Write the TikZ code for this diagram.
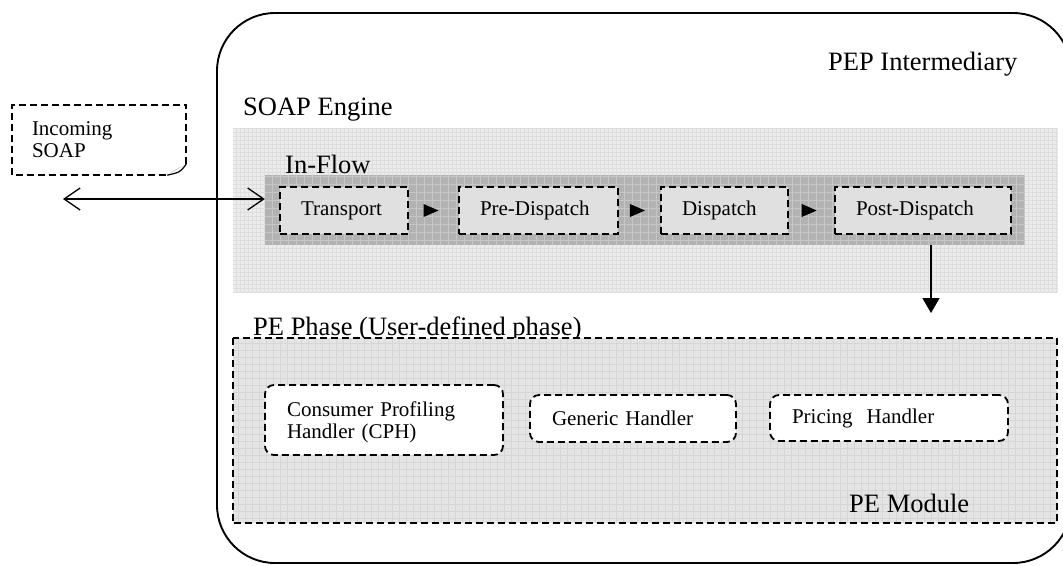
\documentclass[tikz,border=0pt]{standalone}
\usepackage{fontspec}
\setmainfont{Liberation Serif}
\usetikzlibrary{arrows.meta,calc}

\definecolor{enginebg}{HTML}{ECECEC}
\definecolor{enginegrid}{HTML}{DEDEDE}
\definecolor{flowbg}{HTML}{B2B2B2}
\definecolor{flowgrid}{HTML}{C6C6C6}
\definecolor{phasebg}{HTML}{E0E0E0}
\definecolor{modulebg}{HTML}{E4E4E4}
\definecolor{modulegrid}{HTML}{D6D6D6}

\begin{document}
\begin{tikzpicture}[x=1pt,y=-1pt,
  bigtext/.style={font=\fontsize{26.5}{30}\selectfont, inner sep=0pt},
  smalltext/.style={font=\fontsize{21}{22}\selectfont},
  dashedline/.style={draw=black, line width=1.8pt, dash pattern=on 7pt off 4pt},
  region/.style={rectangle, inner sep=0pt, draw=none},
  phasebox/.style={rectangle, dashedline, fill=phasebg, smalltext, minimum height=47pt,
    inner xsep=21pt, inner ysep=0pt, align=left},
  handlerbox/.style={rectangle, dashedline, fill=white, rounded corners=9pt, smalltext,
    inner xsep=22pt, inner ysep=0pt, align=left},
  flowtip/.style={fill=black},
]
\useasboundingbox (0,0) rectangle (1063,565);

% PEP intermediary container (its right side runs past the page edge)
\draw[line width=1.9pt, rounded corners=58pt] (217,13) rectangle (1071,563);
\node[bigtext, anchor=base west] (peplabel) at (828,70) {PEP Intermediary};

% SOAP engine area with its fine grid texture
\node[region, fill=enginebg, minimum width=825pt, minimum height=164pt] (engine) at (645.5,210) {};
\begin{scope}
  \clip (engine.north west) rectangle (engine.south east);
  \draw[enginegrid, line width=0.4pt, step=4pt] (engine.north west) grid (engine.south east);
\end{scope}
\node[bigtext, anchor=base west] (enginelabel) at (243,115) {SOAP Engine};

% In-flow band
\node[region, fill=flowbg, minimum width=760pt, minimum height=70pt] (inflow) at (645,210) {};
\begin{scope}
  \clip (inflow.north west) rectangle (inflow.south east);
  \draw[flowgrid, line width=0.6pt, step=8pt] (inflow.north west) grid (inflow.south east);
\end{scope}
\node[bigtext, anchor=base west] (inflowlabel) at (285,173) {In-Flow};

% Phases of the in-flow
\node[phasebox, text width=86pt]  (transport)    at (344,210.5)   {Transport};
\node[phasebox, text width=117pt] (predispatch)  at (538.5,210.5) {Pre-Dispatch};
\node[phasebox, text width=85pt]  (dispatch)     at (724.5,210.5) {Dispatch};
\node[phasebox, text width=134pt] (postdispatch) at (923,210.5)   {Post-Dispatch};

\foreach \a/\b [count=\i] in {transport/predispatch, predispatch/dispatch, dispatch/postdispatch} {
  \path (\a.east) -- coordinate[pos=0.45] (step\i) (\b.west);
  \fill[flowtip] ($(step\i)+(-7.5,-6.5)$) -- ($(step\i)+(7.5,0)$) -- ($(step\i)+(-7.5,6.5)$) -- cycle;
}

% Incoming SOAP message note
\node[region, smalltext, text width=134pt, inner xsep=20pt, align=left,
      minimum height=70pt] (note) at (99,140) {Incoming\\SOAP};
\draw[dashedline] ([yshift=11pt]note.south east) -- (note.north east) -- (note.north west)
  -- (note.south west) -- ([xshift=-19pt]note.south east);
\fill[gray!45] ([yshift=11pt]note.south east) -- ([xshift=-12pt,yshift=5pt]note.south east)
  -- ([xshift=-19pt]note.south east) -- cycle;
\draw[line width=1.2pt] ([yshift=11pt]note.south east) .. controls ([xshift=-6pt,yshift=3pt]note.south east)
  .. ([xshift=-19pt]note.south east);

% Message exchange and hand-over to the PE phase
\coordinate (soapend) at (63,199);
\draw[line width=1.3pt, {Straight Barb[length=16pt,width=22pt]}-{Straight Barb[length=16pt,width=22pt]}]
  (soapend) -- (soapend -| inflow.west);
\coordinate (phaseend) at (931,313);
\draw[line width=1.6pt, -{Triangle[length=15pt,width=17pt]}] (phaseend |- inflow.south) -- (phaseend);

% PE phase / PE module
\node[bigtext, anchor=base west] (phaselabel) at (253,335) {PE Phase (User-defined phase)};
\node[region, fill=modulebg, minimum width=824pt, minimum height=185pt] (pemodule) at (645,430.5) {};
\begin{scope}
  \clip (pemodule.north west) rectangle (pemodule.south east);
  \draw[modulegrid, line width=0.5pt, step=7pt] (pemodule.north west) grid (pemodule.south east);
\end{scope}
\draw[dashedline] (pemodule.north west) rectangle (pemodule.south east);
\node[bigtext, anchor=base west] (modulelabel) at (849,512) {PE Module};

\node[handlerbox, text width=194pt, minimum height=70pt] (cph)     at (384,420)   {\rule{0pt}{19pt}Consumer Profiling\\Handler (CPH)};
\node[handlerbox, text width=162pt, minimum height=47pt] (generic) at (633,418.5) {Generic Handler};
\node[handlerbox, text width=194pt, minimum height=46pt] (pricing) at (889,418)   {Pricing\ \ Handler};
\end{tikzpicture}
\end{document}
